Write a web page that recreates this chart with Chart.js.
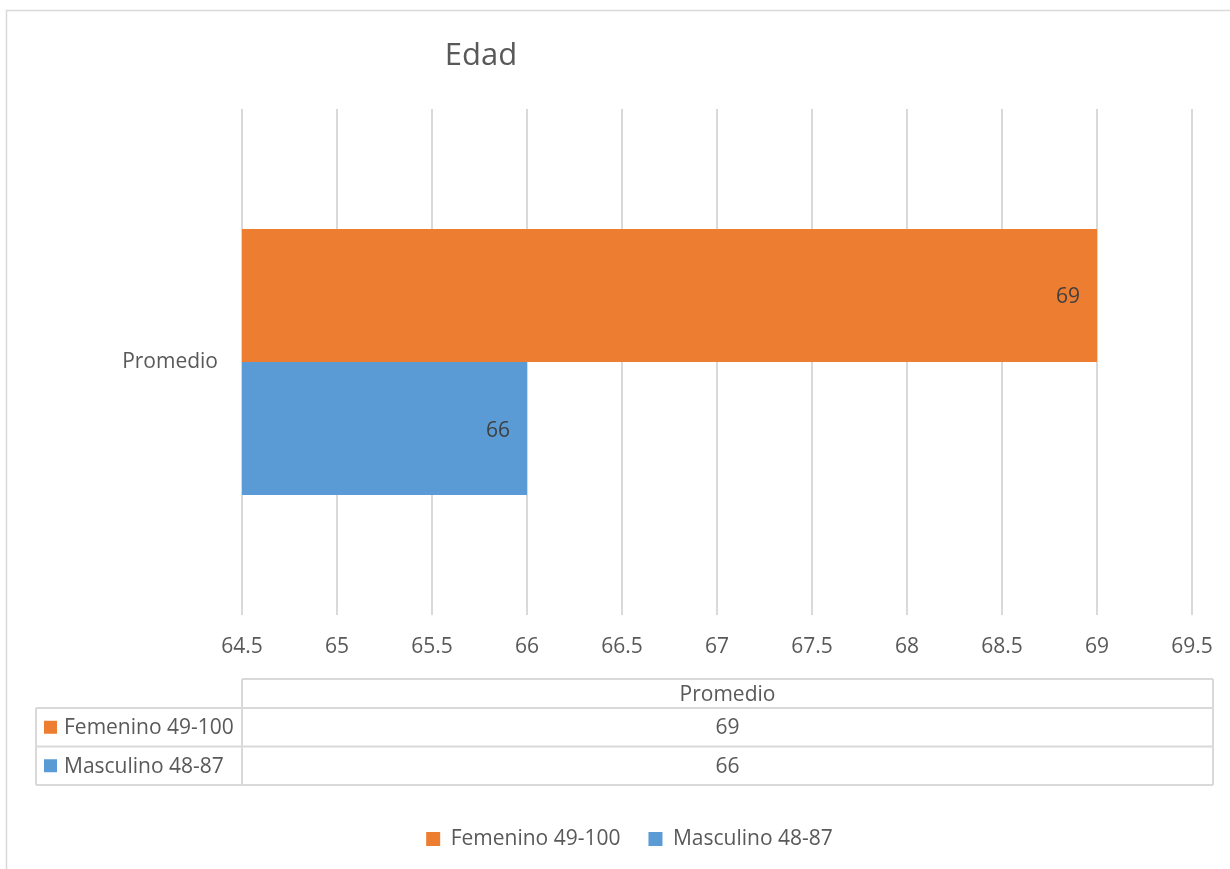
<!DOCTYPE html>
<html>
<head>
<meta charset="utf-8">
<title>Edad</title>
<script src="https://cdn.jsdelivr.net/npm/chart.js@4.4.1/dist/chart.umd.min.js"></script>
<style>
  html, body { margin: 0; padding: 0; background: #fff; }
  canvas { display: block; }
</style>
</head>
<body>
<canvas id="edadChart" width="1230" height="869"></canvas>
<script>
// data
const categories = ["Promedio"];
const seriesNames = ["Femenino 49-100", "Masculino 48-87"];
const femenino = [69];
const masculino = [66];
const seriesColors = ["#ED7D31", "#5B9BD5"];
const xTicks = [64.5, 65, 65.5, 66, 66.5, 67, 67.5, 68, 68.5, 69, 69.5];
const chartTitle = "Edad";

const textColor = "#595959";
const lineColor = "#d9d9d9";
Chart.defaults.font.family = "'Open Sans', sans-serif";
Chart.defaults.font.size = 21;
Chart.defaults.color = textColor;

// white background + outer frame + title
const frame = {
  id: "frame",
  beforeDraw(chart) {
    const ctx = chart.ctx;
    ctx.save();
    ctx.fillStyle = "#fff";
    ctx.fillRect(0, 0, chart.width, chart.height);
    ctx.strokeStyle = lineColor;
    ctx.lineWidth = 1.5;
    ctx.strokeRect(6.5, 10.5, chart.width + 20, chart.height + 20);
    ctx.fillStyle = textColor;
    ctx.font = "31px 'Open Sans', sans-serif";
    ctx.textAlign = "center";
    ctx.textBaseline = "middle";
    ctx.fillText(chartTitle, 481, 56);
    ctx.restore();
  }
};

// value labels inside the end of each bar
const barLabels = {
  id: "barLabels",
  afterDatasetsDraw(chart) {
    const ctx = chart.ctx;
    ctx.save();
    ctx.font = "21px 'Open Sans', sans-serif";
    ctx.fillStyle = "#404040";
    ctx.textAlign = "right";
    ctx.textBaseline = "middle";
    chart.data.datasets.forEach((ds, i) => {
      chart.getDatasetMeta(i).data.forEach((bar, j) => {
        ctx.fillText(String(ds.data[j]), bar.x - 17, bar.y + 2);
      });
    });
    ctx.restore();
  }
};

// data table under the x axis
const dataTable = {
  id: "dataTable",
  afterDraw(chart) {
    const ctx = chart.ctx;
    const area = chart.chartArea;
    const colLeft = area.left;
    const colRight = chart.width - 17;
    const tableLeft = 36;
    const headTop = area.bottom + 64;
    const headH = 29;
    const rowH = 38.5;
    const sets = chart.data.datasets;
    const bottom = headTop + headH + rowH * sets.length;
    const mid = (colLeft + colRight) / 2;

    ctx.save();
    ctx.strokeStyle = lineColor;
    ctx.lineWidth = 2;
    ctx.beginPath();
    ctx.moveTo(colLeft, headTop); ctx.lineTo(colRight, headTop);
    ctx.moveTo(colLeft, headTop); ctx.lineTo(colLeft, bottom);
    ctx.moveTo(colRight, headTop); ctx.lineTo(colRight, bottom);
    ctx.moveTo(tableLeft, headTop + headH); ctx.lineTo(tableLeft, bottom);
    for (let i = 0; i <= sets.length; i++) {
      const y = headTop + headH + rowH * i;
      ctx.moveTo(tableLeft, y); ctx.lineTo(colRight, y);
    }
    ctx.stroke();

    ctx.font = "21px 'Open Sans', sans-serif";
    ctx.fillStyle = textColor;
    ctx.textBaseline = "middle";
    ctx.textAlign = "center";
    ctx.fillText(chart.data.labels[0], mid, headTop + headH / 2 + 2);
    sets.forEach((ds, i) => {
      const cy = headTop + headH + rowH * i + rowH / 2;
      ctx.textAlign = "center";
      ctx.fillStyle = textColor;
      ctx.fillText(String(ds.data[0]), mid, cy + 1);
      ctx.fillStyle = ds.backgroundColor;
      ctx.fillRect(44, cy - 6.5, 13, 13);
      ctx.fillStyle = textColor;
      ctx.textAlign = "left";
      ctx.fillText(ds.label, 64, cy + 1);
    });
    ctx.restore();
  }
};

new Chart(document.getElementById("edadChart"), {
  type: "bar",
  data: {
    labels: categories,
    datasets: [
      { label: seriesNames[0], data: femenino, backgroundColor: seriesColors[0], borderWidth: 0 },
      { label: seriesNames[1], data: masculino, backgroundColor: seriesColors[1], borderWidth: 0 }
    ]
  },
  options: {
    indexAxis: "y",
    responsive: false,
    animation: false,
    events: [],
    categoryPercentage: 0.526,
    barPercentage: 1,
    layout: { padding: { top: 109, left: 67, right: 38, bottom: 9.5 } },
    scales: {
      x: {
        min: 64.5,
        max: 69.5,
        afterBuildTicks: (scale) => { scale.ticks = xTicks.map((v) => ({ value: v })); },
        afterFit: (scale) => {
          scale.height = 185.5;
          scale.paddingLeft = 0;
          scale.paddingRight = 0;
        },
        grid: { color: lineColor, lineWidth: 2, drawTicks: false },
        border: { display: false },
        ticks: { padding: 19, color: textColor, callback: (v) => String(v) }
      },
      y: {
        afterFit: (scale) => { scale.width = 175; },
        grid: { display: false, drawTicks: false },
        border: { display: false },
        ticks: { padding: 24, color: textColor }
      }
    },
    plugins: {
      title: { display: false },
      tooltip: { enabled: false },
      legend: {
        position: "bottom",
        labels: { boxWidth: 14, boxHeight: 14, padding: 28, color: textColor, font: { size: 21 } }
      }
    }
  },
  plugins: [frame, barLabels, dataTable]
});
</script>
</body>
</html>
